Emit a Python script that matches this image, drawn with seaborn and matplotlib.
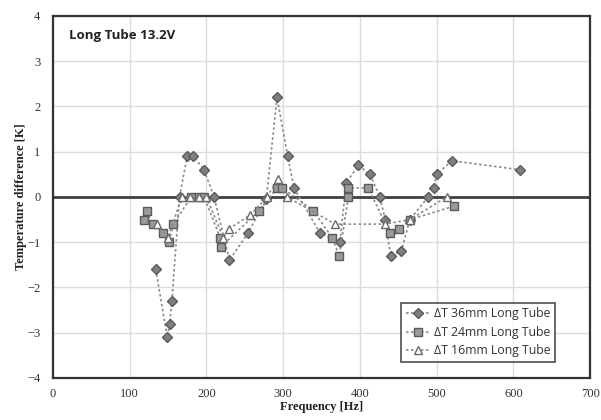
import matplotlib
matplotlib.use("Agg")
import matplotlib.pyplot as plt
import seaborn as sns
import pandas as pd

# 36 mm long tube
f36 = [134, 149, 152, 155, 165, 175, 183, 197, 210, 230, 254, 278, 292, 306, 314,
       348, 374, 382, 398, 413, 426, 433, 440, 454, 465, 489, 496, 500, 520, 609]
t36 = [-1.6, -3.1, -2.8, -2.3, 0.0, 0.9, 0.9, 0.6, 0.0, -1.4, -0.8, -0.05, 2.2, 0.9, 0.2,
       -0.8, -1.0, 0.3, 0.7, 0.5, 0.0, -0.5, -1.3, -1.2, -0.5, 0.0, 0.2, 0.5, 0.8, 0.6]
# 24 mm long tube
f24 = [119, 122, 130, 144, 151, 157, 180, 190, 197, 218, 219, 269, 292, 299,
       339, 364, 373, 385, 385, 411, 439, 451, 465, 523]
t24 = [-0.5, -0.3, -0.6, -0.8, -1.0, -0.6, 0.0, 0.0, 0.0, -0.9, -1.1, -0.3, 0.2, 0.2,
       -0.3, -0.9, -1.3, 0.0, 0.2, 0.2, -0.8, -0.7, -0.5, -0.2]
# 16 mm long tube
f16 = [135, 150, 168, 178, 190, 200, 222, 230, 257, 279, 293, 305, 368, 433, 465, 513]
t16 = [-0.6, -0.9, 0.0, 0.0, 0.0, 0.0, -0.9, -0.7, -0.4, 0.0, 0.4, 0.0, -0.6, -0.6, -0.5, 0.0]

labels = ["\u0394T 36mm Long Tube", "\u0394T 24mm Long Tube", "\u0394T 16mm Long Tube"]

sns.set_theme(style="white")
plt.rcParams["font.family"] = ["Liberation Serif", "DejaVu Sans"]

fig = plt.figure(figsize=(6.01, 4.2), dpi=100)
ax = fig.add_axes([0.088, 0.1, 0.894, 0.862])

line_c = "#8a8a8a"
series = [
    (f36, t36, labels[0], "D", "#7f7f7f", "#5a5a5a", 4.8),
    (f24, t24, labels[1], "s", "#9a9a9a", "#5a5a5a", 6.0),
    (f16, t16, labels[2], "^", "white", "#6a6a6a", 6.0),
]
for f, t, lab, m, fc, ec, ms in series:
    df = pd.DataFrame({"f": f, "t": t})
    sns.lineplot(data=df, x="f", y="t", sort=False, estimator=None, ax=ax,
                 color=line_c, linestyle=(0, (1.5, 1.5)), linewidth=1.2,
                 marker=m, markersize=ms, markerfacecolor=fc,
                 markeredgecolor=ec, markeredgewidth=1.0, label=lab)

ax.axhline(0, color="#404040", linewidth=2.0, zorder=1)

ax.set_xlim(0, 700)
ax.set_ylim(-4, 4)
ax.set_xticks(range(0, 701, 100))
ax.set_yticks(range(-4, 5, 1))
ax.grid(True, color="#dcdcdc", linewidth=1.0)
ax.set_axisbelow(True)
for s in ax.spines.values():
    s.set_color("#333333")
    s.set_linewidth(1.6)
ax.tick_params(axis="both", labelsize=9, colors="#333333", length=3, width=0.8,
               direction="out")
ax.tick_params(axis="x", length=0, pad=7)
ax.tick_params(axis="y", pad=6)

ax.set_xlabel("Frequency [Hz]", fontsize=9, fontweight="bold", color="#222222", labelpad=1)
ax.set_ylabel("Temperature difference [K]", fontsize=9, fontweight="bold",
              color="#222222", labelpad=0)

ax.text(0.03, 0.945, "Long Tube 13.2V", transform=ax.transAxes, fontsize=9.5,
        fontweight="bold", family=["Open Sans", "DejaVu Sans"], color="#222222",
        va="center", ha="left")

leg = ax.legend(loc="lower right", bbox_to_anchor=(0.935, 0.045),
                prop={"family": ["Open Sans", "DejaVu Sans"], "size": 8.8},
                frameon=True, fancybox=False, handlelength=2.0,
                borderpad=0.35, labelspacing=0.45, handletextpad=0.35,
                borderaxespad=0.0)
leg.get_frame().set_edgecolor("#222222")
leg.get_frame().set_linewidth(1.2)
for txt in leg.get_texts():
    txt.set_color("#333333")

fig.savefig("out.png", dpi=100)
